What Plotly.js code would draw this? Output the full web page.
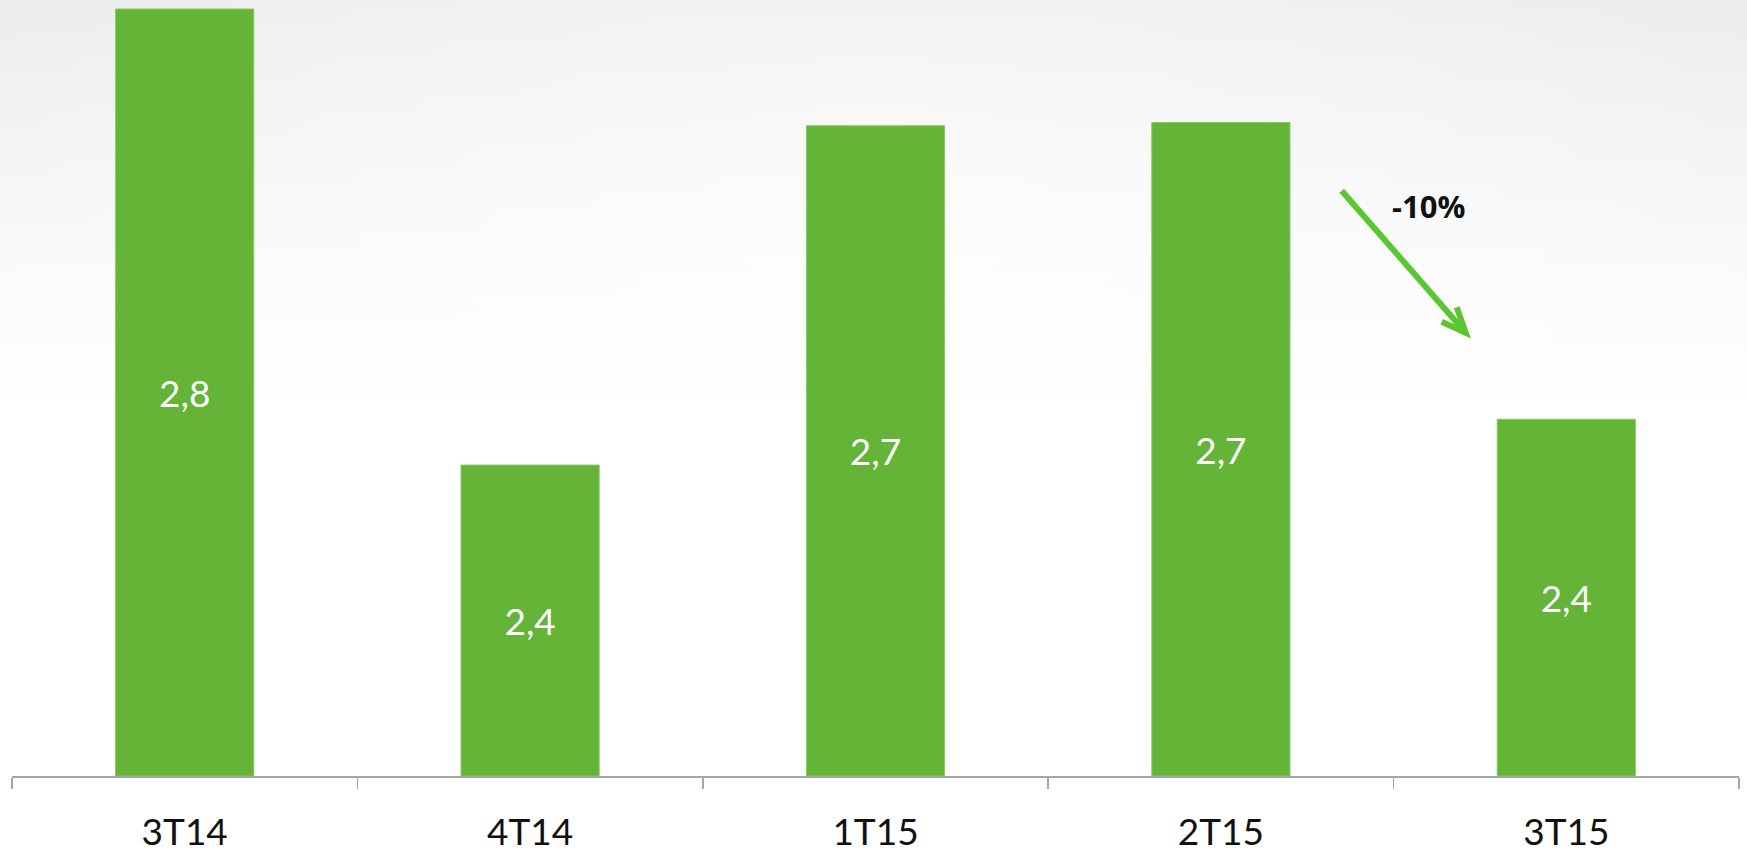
<!DOCTYPE html>
<html>
<head>
<meta charset="utf-8">
<script src="https://cdn.plot.ly/plotly-3.0.1.min.js"></script>
<style>
  html, body { margin: 0; padding: 0; }
  body {
    width: 1747px; height: 852px; overflow: hidden;
    background: radial-gradient(ellipse 60% 55% at 50% 30%, rgba(255,255,255,0.7) 0%, rgba(255,255,255,0) 100%),
                linear-gradient(to bottom, #ececec 0%, #f3f3f3 18%, #fbfbfb 35%, #ffffff 48%, #ffffff 100%);
  }
  #chart { width: 1747px; height: 852px; }
</style>
</head>
<body>
<div id="chart"></div>
<script>
// Data
const categories = ["3T14", "4T14", "1T15", "2T15", "3T15"];
const values = [2.824, 2.406, 2.717, 2.72, 2.448];
const changeLabel = "-10%";

// Axis floor (the chart's value axis does not start at zero)
const axisMin = 2.121, axisMax = 2.8323;

// Layout helpers (pixel -> paper)
const W = 1747, H = 852, ML = 12, MR = 8, MT = 0, MB = 76;
const PW = W - ML - MR, PH = H - MT - MB;
const px = x => (x - ML) / PW;
const py = y => (H - MB - y) / PH;

const arrowColor = "#5cc631";

const trace = {
  type: "bar",
  x: categories,
  base: axisMin,
  y: values.map(v => v - axisMin),
  text: values.map(v => v.toFixed(1).replace(".", ",")),
  textposition: "inside",
  insidetextanchor: "middle",
  textangle: 0,
  marker: { color: "#63b437", line: { color: "#86c965", width: 1 } },
  textfont: { family: "Lato, 'DejaVu Sans', sans-serif", size: 37, color: "#ffffff" },
  hoverinfo: "skip"
};

const layout = {
  width: W, height: H,
  margin: { l: ML, r: MR, t: MT, b: MB, pad: 0 },
  paper_bgcolor: "rgba(0,0,0,0)",
  plot_bgcolor: "rgba(0,0,0,0)",
  bargap: 0.6,
  showlegend: false,
  uniformtext: { mode: false },
  xaxis: {
    type: "category",
    range: [-0.5, 4.5],
    showline: true, linecolor: "#a6a6a6", linewidth: 1.5,
    ticks: "outside", tickson: "boundaries", ticklen: 11, tickcolor: "#a6a6a6", tickwidth: 1.5,
    showgrid: false, zeroline: false,
    ticklabelstandoff: 23,
    tickfont: { family: "Lato, 'DejaVu Sans', sans-serif", size: 37, color: "#111111" },
    fixedrange: true
  },
  yaxis: {
    range: [axisMin, axisMax],
    visible: false, showgrid: false, zeroline: false,
    fixedrange: true
  },
  shapes: [
    { type: "line", xref: "paper", yref: "paper",
      x0: px(1341.7), y0: py(190.7), x1: px(1465.7), y1: py(332.7),
      line: { color: arrowColor, width: 6 } },
    { type: "path", xref: "paper", yref: "paper",
      path: "M " + px(1441.7) + "," + py(321.7) + " L " + px(1465.7) + "," + py(332.7) + " L " + px(1456.7) + "," + py(307.3),
      line: { color: arrowColor, width: 6 } }
  ],
  annotations: [
    { xref: "paper", yref: "paper", x: px(1428), y: py(206), xanchor: "center", yanchor: "middle",
      text: "<b>" + changeLabel + "</b>", showarrow: false,
      font: { family: "'Open Sans', Lato, sans-serif", size: 31, color: "#111111" } }
  ]
};

Plotly.newPlot("chart", [trace], layout, { displayModeBar: false, staticPlot: true });
</script>
</body>
</html>
